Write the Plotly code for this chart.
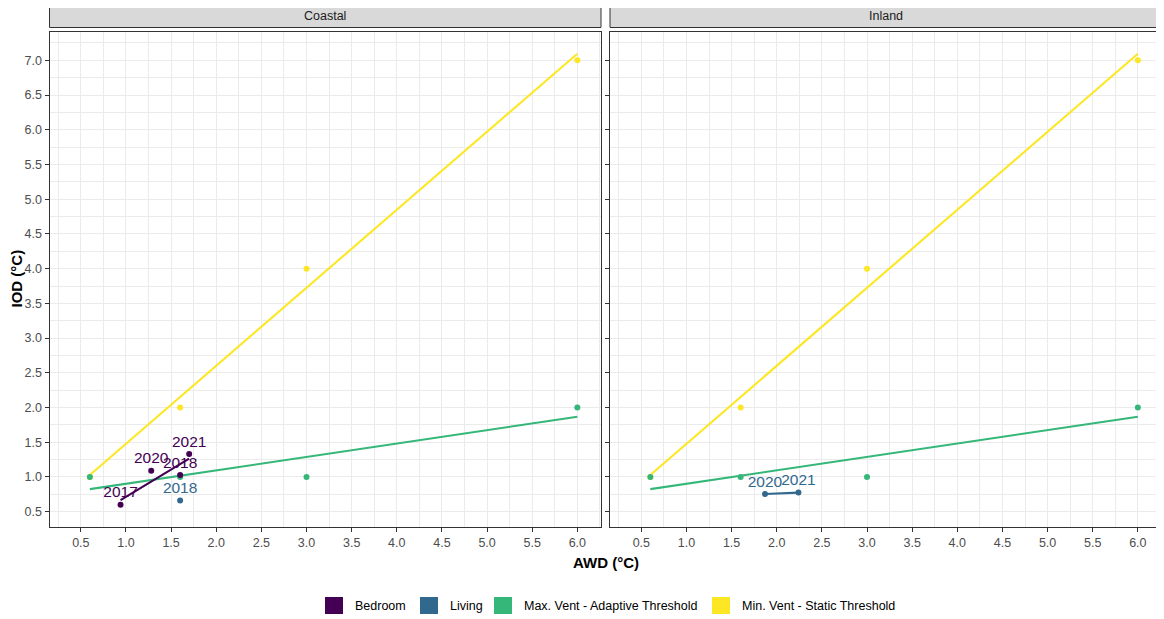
import numpy as np
import plotly.graph_objects as go

# ---------------- data ----------------
facets = ["Coastal", "Inland"]

thr_x = [0.6, 1.6, 3.0, 6.0]
maxvent_y = [1.0, 1.0, 1.0, 2.0]      # Max. Vent - Adaptive Threshold
minvent_y = [1.0, 2.0, 4.0, 7.0]      # Min. Vent - Static Threshold

bed_coastal_x = [0.94, 1.28, 1.60, 1.70]
bed_coastal_y = [0.60, 1.09, 1.03, 1.33]
bed_coastal_lab = ["2017", "2020", "2018", "2021"]

liv_coastal_x = [1.60]
liv_coastal_y = [0.66]
liv_coastal_lab = ["2018"]

liv_inland_x = [1.87, 2.24]
liv_inland_y = [0.755, 0.775]
liv_inland_lab = ["2020", "2021"]

x_ticks = [0.5, 1.0, 1.5, 2.0, 2.5, 3.0, 3.5, 4.0, 4.5, 5.0, 5.5, 6.0]
y_ticks = [0.5, 1.0, 1.5, 2.0, 2.5, 3.0, 3.5, 4.0, 4.5, 5.0, 5.5, 6.0, 6.5, 7.0]

legend_names = ["Bedroom", "Living", "Max. Vent - Adaptive Threshold", "Min. Vent - Static Threshold"]
colors = {"Bedroom": "#440154", "Living": "#31688E",
          "Max. Vent - Adaptive Threshold": "#35B779",
          "Min. Vent - Static Threshold": "#FDE725"}

# ---------------- layout helpers ----------------
OFF = 8  # browser default body margin
W, H = 1164 - OFF, 619 - OFF
def px(x): return (x - OFF) / W
def py(y): return 1 - (y - OFF) / H

FONT = "Liberation Sans, Arial, sans-serif"
panel_x = [(49.5, 601), (610, 1161.5)]
panel_y = (31.7, 526.7)

fig = go.Figure()

def fit_line(xs, ys):
    k, b = np.polyfit(xs, ys, 1)
    xx = np.linspace(min(xs), max(xs), 50)
    return xx, k * xx + b

def add_series(xs, ys, name, axis_i, labels=None, line=True):
    c = colors[name]
    xa, ya = ("x", "y") if axis_i == 0 else ("x2", "y2")
    if line and len(xs) > 1:
        lx, ly = fit_line(xs, ys)
        fig.add_trace(go.Scatter(x=lx, y=ly, mode="lines", line=dict(color=c, width=2.1),
                                 xaxis=xa, yaxis=ya, showlegend=False, hoverinfo="skip"))
    fig.add_trace(go.Scatter(x=xs, y=ys, mode="markers", marker=dict(color=c, size=6),
                             xaxis=xa, yaxis=ya, showlegend=False))
    if labels:
        fig.add_trace(go.Scatter(x=xs, y=ys, mode="markers+text", text=labels,
                                 marker=dict(size=4, color="rgba(0,0,0,0)"),
                                 textposition="top center",
                                 textfont=dict(family=FONT, size=15.5, color=c),
                                 xaxis=xa, yaxis=ya, showlegend=False, hoverinfo="skip"))

for i in range(2):
    add_series(thr_x, minvent_y, "Min. Vent - Static Threshold", i)
    add_series(thr_x, maxvent_y, "Max. Vent - Adaptive Threshold", i)

add_series(bed_coastal_x, bed_coastal_y, "Bedroom", 0, bed_coastal_lab)
add_series(liv_coastal_x, liv_coastal_y, "Living", 0, liv_coastal_lab, line=False)
add_series(liv_inland_x, liv_inland_y, "Living", 1, liv_inland_lab)

xrange_ = [0.153, 6.262]
yrange_ = [0.284, 7.412]

minor = dict(dtick=0.5, tick0=0.25, showgrid=True, gridcolor="#EBEBEB", gridwidth=0.6)
common = dict(showline=True, mirror=True, linecolor="#333333", linewidth=1,
              ticks="outside", ticklen=4, tickcolor="#333333", tickwidth=1,
              showgrid=True, gridcolor="#EBEBEB", gridwidth=1, zeroline=False,
              tickfont=dict(family=FONT, size=12.5, color="#4D4D4D"),
              tickformat=".1f", minor=minor)

fig.update_layout(
    width=W, height=H,
    margin=dict(l=0, r=0, t=0, b=0),
    paper_bgcolor="white", plot_bgcolor="white",
    showlegend=False,
    xaxis=dict(domain=[px(panel_x[0][0]), px(panel_x[0][1])], range=xrange_, tickvals=x_ticks,
               anchor="y", **common),
    xaxis2=dict(domain=[px(panel_x[1][0]), px(panel_x[1][1])], range=xrange_, tickvals=x_ticks,
                anchor="y2", **common),
    yaxis=dict(domain=[py(panel_y[1]), py(panel_y[0])], range=yrange_, tickvals=y_ticks,
               anchor="x", **common),
    yaxis2=dict(domain=[py(panel_y[1]), py(panel_y[0])], range=yrange_, tickvals=y_ticks,
                anchor="x2", showticklabels=False, **common),
)

shapes = []
annotations = []
# facet strips
for (x0, x1), name in zip(panel_x, facets):
    shapes.append(dict(type="rect", xref="paper", yref="paper", x0=px(x0), x1=px(x1),
                       y0=py(27.5), y1=py(3.5), fillcolor="#D9D9D9",
                       line=dict(color="#333333", width=1), layer="below"))
    annotations.append(dict(xref="paper", yref="paper", x=px((x0 + x1) / 2), y=py(15.5),
                            text=name, showarrow=False,
                            font=dict(family=FONT, size=12.5, color="#1A1A1A"),
                            xanchor="center", yanchor="middle"))

# axis titles
annotations.append(dict(xref="paper", yref="paper", x=px(605.5), y=py(562),
                        text="<b>AWD (°C)</b>", showarrow=False,
                        font=dict(family=FONT, size=15, color="black"),
                        xanchor="center", yanchor="middle"))
annotations.append(dict(xref="paper", yref="paper", x=px(16.5), y=py(279),
                        text="<b>IOD (°C)</b>", showarrow=False, textangle=-90,
                        font=dict(family=FONT, size=15, color="black"),
                        xanchor="center", yanchor="middle"))

# legend (manual, bottom)
key_x = [325, 420, 494, 712]
for kx, name in zip(key_x, legend_names):
    shapes.append(dict(type="rect", xref="paper", yref="paper", x0=px(kx), x1=px(kx + 18),
                       y0=py(614), y1=py(597), fillcolor=colors[name],
                       line=dict(color=colors[name], width=0)))
    annotations.append(dict(xref="paper", yref="paper", x=px(kx + 28), y=py(605.5),
                            text=name, showarrow=False,
                            font=dict(family=FONT, size=12.5, color="black"),
                            xanchor="left", yanchor="middle"))

fig.update_layout(shapes=shapes, annotations=annotations)
fig.write_html("out.html")
